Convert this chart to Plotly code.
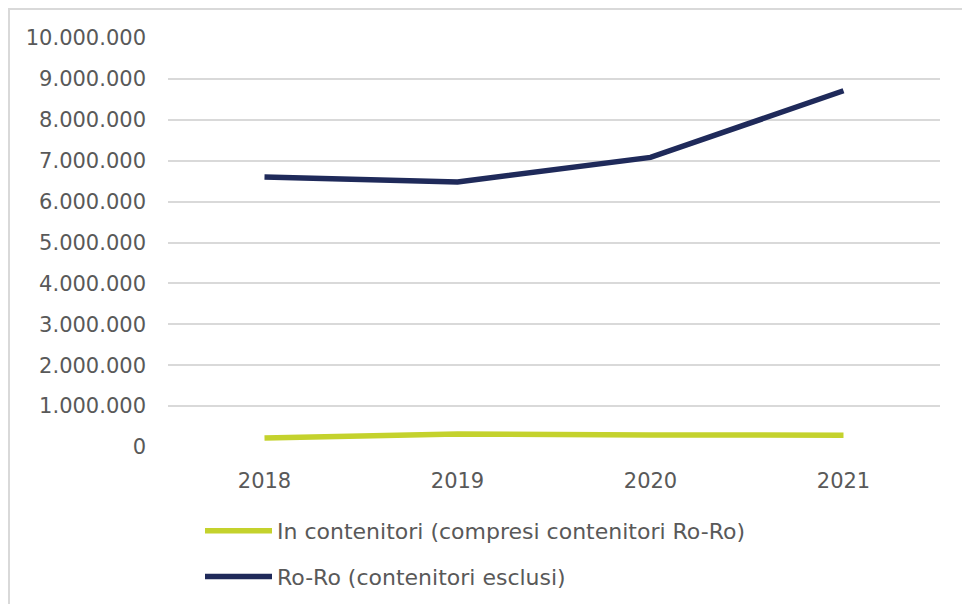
import plotly.graph_objects as go

years = ["2018", "2019", "2020", "2021"]
contenitori = [220000, 320000, 295000, 290000]
ro_ro = [6600000, 6480000, 7080000, 8710000]

# page has an 8px body margin, so the figure is drawn 8px in from the corner
W, H = 962, 596
L, R, T, B = 160, 30, 30, 157
pw, ph = W - L - R, H - T - B

fig = go.Figure()
fig.add_trace(go.Scatter(x=years, y=contenitori, mode="lines",
                         name="In contenitori (compresi contenitori Ro-Ro)",
                         legendgroup="a",
                         line=dict(color="#C4D22D", width=5.5)))
fig.add_trace(go.Scatter(x=years, y=ro_ro, mode="lines",
                         name="Ro-Ro (contenitori esclusi)",
                         legendgroup="b",
                         line=dict(color="#1F2A5A", width=5.5)))

fig.update_layout(
    width=W, height=H,
    margin=dict(l=L, r=R, t=T, b=B),
    paper_bgcolor="white", plot_bgcolor="white",
    separators=",.",
    font=dict(family="'DejaVu Sans', sans-serif", size=21, color="#595959"),
    xaxis=dict(type="category", range=[-0.5, 3.5], showgrid=False,
               showline=False, ticks="", ticklabelstandoff=19),
    yaxis=dict(range=[0, 10000000], dtick=1000000, tickformat=",d",
               gridcolor="#D9D9D9", gridwidth=1.5, zeroline=False,
               ticks="", ticklabelstandoff=21),
    showlegend=True,
    legend=dict(orientation="v", x=(192 - L) / pw, xanchor="left",
                yref="container", y=1 - 502 / H, yanchor="top",
                font=dict(size=22), itemwidth=67, tracegroupgap=14,
                traceorder="grouped", bgcolor="rgba(0,0,0,0)"),
    shapes=[dict(type="rect", xref="paper", yref="paper",
                 x0=(1 - L) / pw, x1=(958 - L) / pw,
                 y0=-(620 - T - ph) / ph, y1=(T + ph - 1) / ph,
                 line=dict(color="#D9D9D9", width=2), layer="below")],
)

fig.write_html("out.html")
